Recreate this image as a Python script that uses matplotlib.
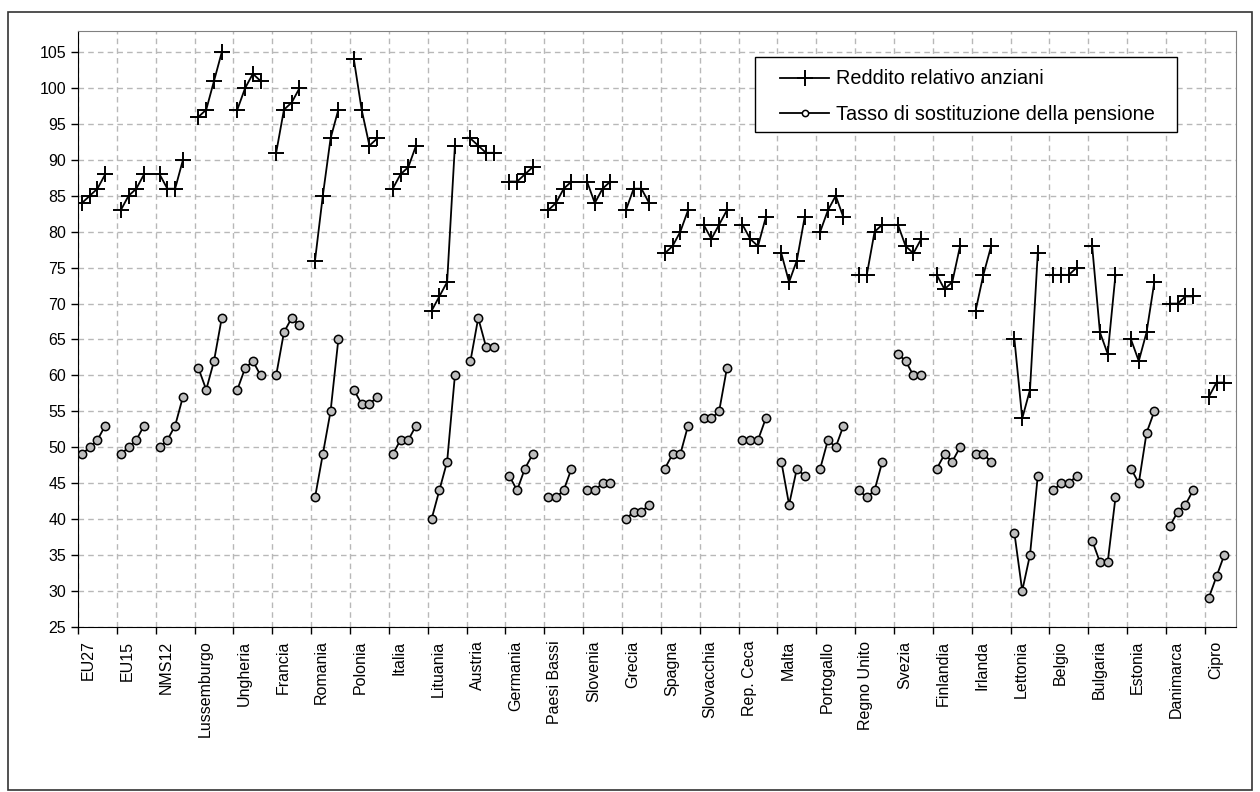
import numpy as np
import matplotlib.pyplot as plt
from matplotlib.patches import Rectangle

plt.rcParams['font.family'] = ['Liberation Sans', 'DejaVu Sans']

paesi = ['EU27', 'EU15', 'NMS12', 'Lussemburgo', 'Ungheria', 'Francia', 'Romania',
         'Polonia', 'Italia', 'Lituania', 'Austria', 'Germania', 'Paesi Bassi',
         'Slovenia', 'Grecia', 'Spagna', 'Slovacchia', 'Rep. Ceca', 'Malta',
         'Portogallo', 'Regno Unito', 'Svezia', 'Finlandia', 'Irlanda', 'Lettonia',
         'Belgio', 'Bulgaria', 'Estonia', 'Danimarca', 'Cipro']

# 4 anni per paese (nan = dato mancante)
reddito = [
    [84, 85, 86, 88], [83, 85, 86, 88], [88, 86, 86, 90], [96, 97, 101, 105],
    [97, 100, 102, 101], [91, 97, 98, 100], [76, 85, 93, 97], [104, 97, 92, 93],
    [86, 88, 89, 92], [69, 71, 73, 92], [93, 92, 91, 91], [87, 87, 88, 89],
    [83, 84, 86, 87], [87, 84, 86, 87], [83, 86, 86, 84], [77, 78, 80, 83],
    [81, 79, 81, 83], [81, 79, 78, 82], [77, 73, 76, 82], [80, 83, 85, 82],
    [74, 74, 80, 81], [81, 78, 77, 79], [74, 72, 73, 78], [69, 74, 78, np.nan],
    [65, 54, 58, 77], [74, 74, 74, 75], [78, 66, 63, 74], [65, 62, 66, 73],
    [70, 70, 71, 71], [57, 59, 59, np.nan],
]

tasso = [
    [49, 50, 51, 53], [49, 50, 51, 53], [50, 51, 53, 57], [61, 58, 62, 68],
    [58, 61, 62, 60], [60, 66, 68, 67], [43, 49, 55, 65], [58, 56, 56, 57],
    [49, 51, 51, 53], [40, 44, 48, 60], [62, 68, 64, 64], [46, 44, 47, 49],
    [43, 43, 44, 47], [44, 44, 45, 45], [40, 41, 41, 42], [47, 49, 49, 53],
    [54, 54, 55, 61], [51, 51, 51, 54], [48, 42, 47, 46], [47, 51, 50, 53],
    [44, 43, 44, 48], [63, 62, 60, 60], [47, 49, 48, 50], [49, 49, 48, np.nan],
    [38, 30, 35, 46], [44, 45, 45, 46], [37, 34, 34, 43], [47, 45, 52, 55],
    [39, 41, 42, 44], [29, 32, 35, np.nan],
]

fig = plt.figure(figsize=(12.6, 7.92), dpi=100)
ax = fig.add_axes([0.0619, 0.2087, 0.919, 0.7525])

# bordo esterno del grafico
fig.patches.append(Rectangle((8 / 1260, 1 - 790 / 792), 1244 / 1260, 778 / 792,
                             transform=fig.transFigure, fill=False,
                             edgecolor='#333333', lw=1.2))

for g in range(len(paesi)):
    x = 5 * g + np.arange(4)
    l1, = ax.plot(x, reddito[g], color='black', lw=1.3, marker='+',
                  markersize=12, markeredgewidth=1.4)
    l2, = ax.plot(x, tasso[g], color='black', lw=1.3, marker='o',
                  markersize=6, markerfacecolor='#bdbdbd',
                  markeredgecolor='black', markeredgewidth=1.1)
    if g == 0:
        l1.set_label('Reddito relativo anziani')
        l2.set_label('Tasso di sostituzione della pensione')

ax.set_ylim(25, 108)
ax.set_yticks(np.arange(25, 106, 5))
ax.set_xlim(-0.5, 5 * len(paesi) - 1.5)

ax.set_xticks(np.arange(len(paesi)) * 5 - 0.5)
ax.set_xticklabels([])
ax.set_xticks(np.arange(len(paesi)) * 5 + 0.85, minor=True)
ax.set_xticklabels(paesi, minor=True, rotation=90, fontsize=11.5)
ax.tick_params(axis='x', which='minor', length=0, pad=10)
ax.tick_params(axis='both', which='major', direction='out', length=5,
               width=1, labelsize=11.5)

ax.grid(True, which='major', color='#b8b8b8', linestyle=(0, (4, 3)), lw=1)
ax.set_axisbelow(True)

for s in ['top', 'right']:
    ax.spines[s].set_color('#808080')
for s in ['left', 'bottom']:
    ax.spines[s].set_color('black')

# riquadro della legenda disegnato a parte
ax.add_patch(Rectangle((0.585, 0.830), 0.364, 0.126, transform=ax.transAxes,
                       facecolor='white', edgecolor='black', lw=1, zorder=4))
leg = ax.legend(loc='upper left', bbox_to_anchor=(0.606, 0.935),
                borderaxespad=0, borderpad=0, fontsize=14.3, handlelength=2.5,
                handletextpad=0.35, labelspacing=0.85, frameon=False)
leg.set_zorder(5)
leg.legend_handles[1].set_markersize(4.5)
leg.legend_handles[1].set_markerfacecolor('white')

fig.savefig('out.png', dpi=100)
